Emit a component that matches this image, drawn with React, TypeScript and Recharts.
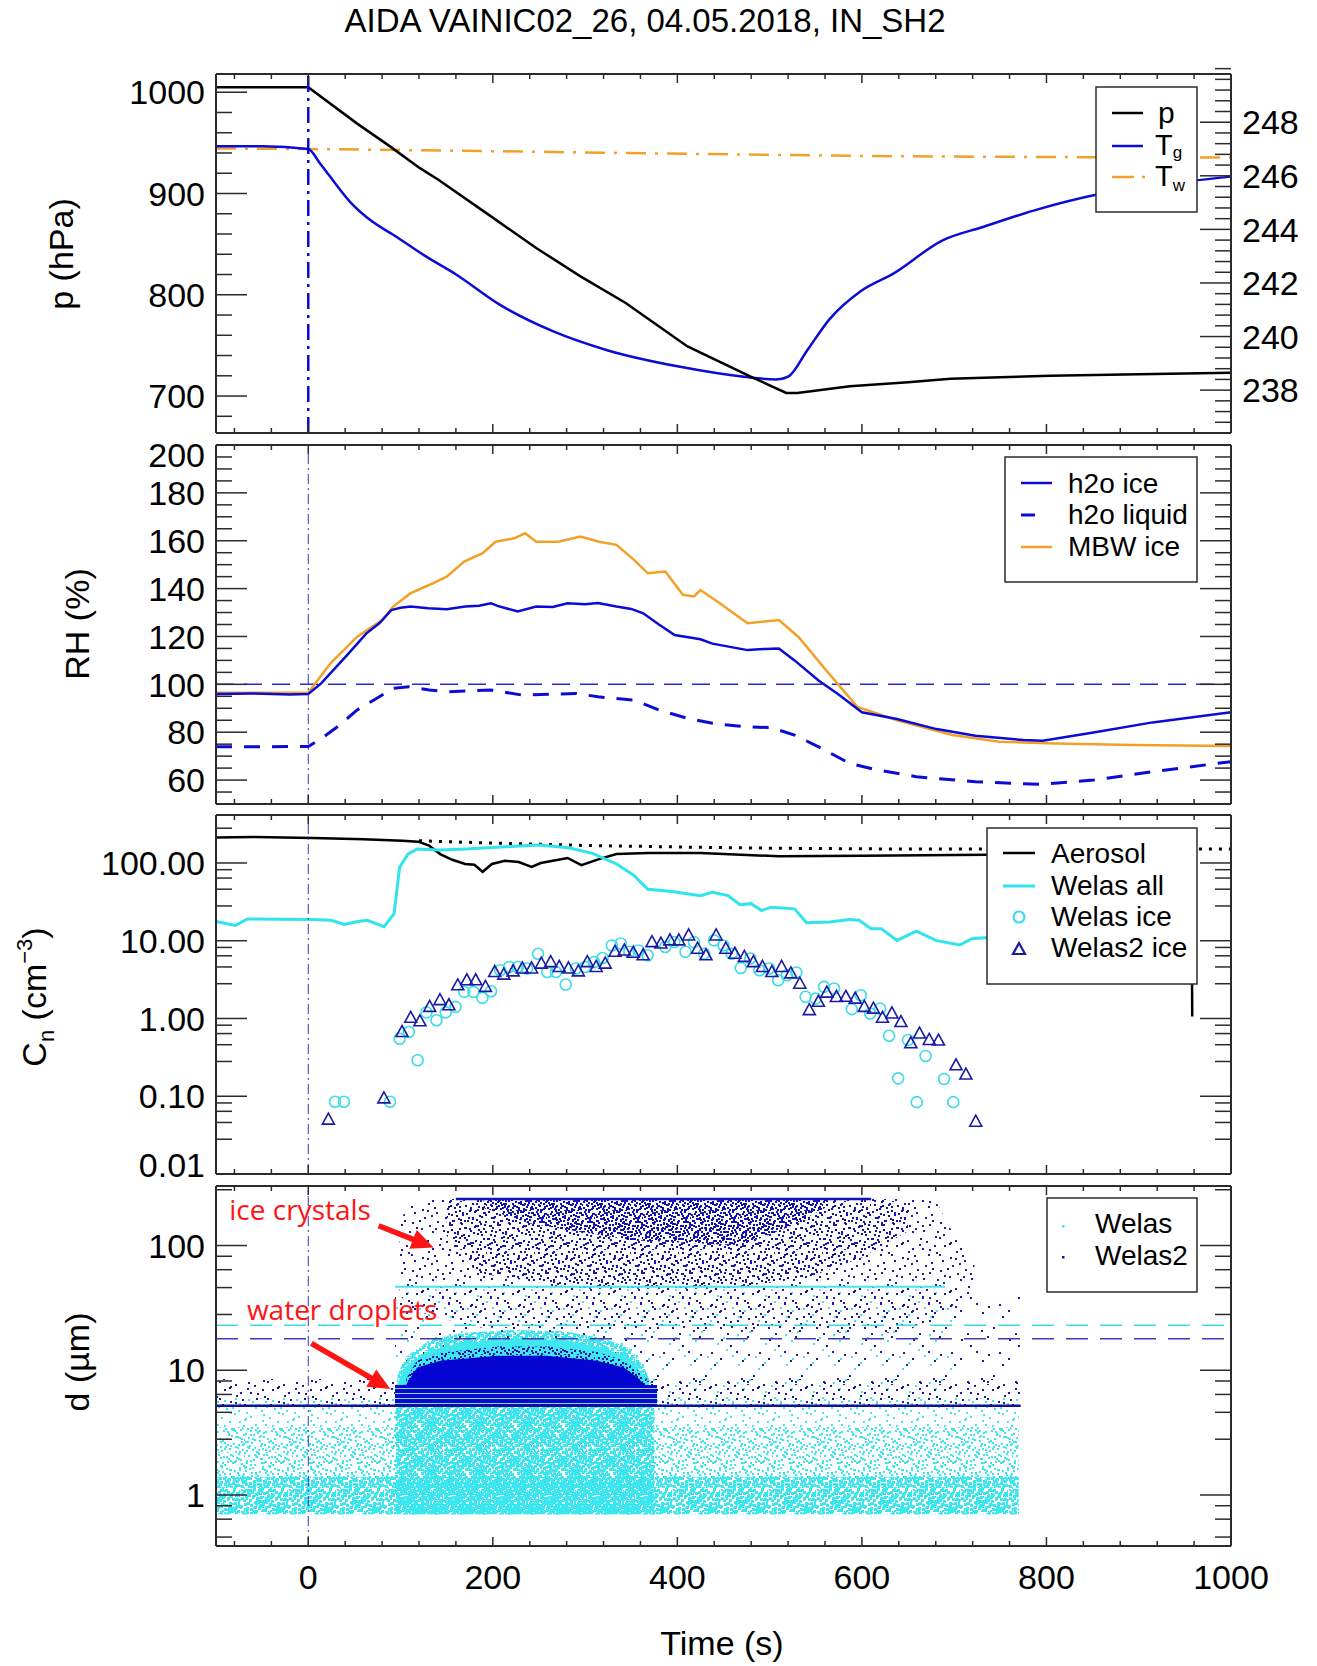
import React from 'react';
import { ComposedChart, Line, Area, Scatter, XAxis, YAxis, ReferenceLine, ReferenceDot } from 'recharts';

// ---------------- Panel 1: pressure (left) and temperatures (right) ----------------
const pTime = [-100, -50, 0, 53, 87, 121, 141, 198, 247, 295, 344, 411, 480, 518, 530, 587, 650, 696, 750, 804, 900, 1000];
const pHpa = [1005, 1005, 1005, 969, 947.5, 925, 913.6, 877.4, 846.2, 818.2, 791.9, 749, 719, 703, 703, 709.6, 713.5, 717, 718.5, 720, 721.5, 723];
const tgTime = [-100, -50, 0, 12, 23, 46, 69, 92, 127, 161, 207, 265, 323, 403, 472, 507, 520, 541, 565, 599, 634, 688, 732, 786, 855, 920, 1000];
const tgK = [247.1, 247.1, 247.0, 246.5, 246.0, 245.0, 244.3, 243.8, 243.0, 242.3, 241.2, 240.2, 239.5, 238.87, 238.5, 238.4, 238.5, 239.5, 240.65, 241.7, 242.35, 243.6, 244.1, 244.7, 245.3, 245.65, 245.97];
const twTime = [-100, 0, 200, 411, 600, 800, 1000];
const twK = [247.02, 247.0, 246.92, 246.82, 246.74, 246.7, 246.68];

// ---------------- Panel 2: relative humidity ----------------
const rhIceT = [-100, -60, -20, 0, 14, 44, 63, 77, 90, 100, 111, 130, 150, 170, 185, 198, 205, 227, 247, 265, 281, 300, 314, 334, 350, 363, 380, 397, 425, 438, 476, 495, 510, 527, 553, 574, 600, 638, 681, 723, 775, 796, 851, 915, 1000];
const rhIceV = [96, 96.2, 95.8, 96, 100.4, 113, 121.3, 125.5, 131, 132, 132.5, 131.8, 131.4, 132.5, 132.8, 133.9, 132.8, 130.4, 132.5, 132.3, 133.9, 133.5, 134, 132.5, 131.5, 129.7, 125, 120.6, 118.8, 117, 114.3, 114.8, 115, 110, 101.6, 96, 88.3, 85.5, 81.3, 78.5, 76.7, 76.4, 79.9, 84.1, 88.3];
const rhMbwT = [-100, 0, 24, 53, 80, 92, 111, 131, 150, 169, 189, 203, 223, 235, 247, 271, 295, 315, 334, 353, 368, 387, 406, 418, 425, 446, 476, 510, 531, 561, 595, 638, 698, 749, 809, 894, 1000];
const rhMbwV = [96.5, 96.5, 108.8, 119.9, 126.9, 132.5, 138.1, 141.5, 145, 151.3, 154.8, 159.6, 161, 163.1, 159.6, 159.6, 161.8, 159.6, 158.3, 152, 146.4, 147.1, 137.4, 136.7, 139.4, 133.9, 125.5, 126.9, 119.9, 106, 90.6, 85, 78.8, 76, 75.3, 74.6, 74.2];
const rhLiqT = [-100, 0, 14.5, 34, 53, 77, 92, 109, 131, 150, 198, 232, 290, 314, 353, 380, 411, 438, 472, 502, 527, 553, 587, 617, 659, 723, 792, 851, 915, 1000];
const rhLiqV = [73.9, 74, 77.4, 83, 89.3, 94.8, 98.3, 99, 97.6, 96.9, 97.6, 95.5, 96.2, 94.8, 93.4, 89.3, 85.8, 83.7, 82.3, 81.9, 78.8, 73.9, 66.9, 64.2, 61.4, 59.3, 58.2, 60, 63.5, 67.7];

// ---------------- Panel 3: number concentrations ----------------
const aeroT = [-100, -60, 5, 60, 102, 119, 131, 143, 156, 170, 180, 189, 199, 213, 228, 242, 252, 265, 281, 296, 315, 334, 368, 425, 510, 600, 736, 850, 957, 958];
const aeroV = [213, 216, 210, 202, 193, 188, 167, 130, 110, 97, 95, 77, 97, 107, 103, 89, 100, 107, 116, 94, 112, 130, 134, 134, 122, 124, 128, 126, 126, 1.06];
const aeroRefT = [120, 200, 300, 425, 500, 600, 700, 1000];
const aeroRefV = [193, 180, 168, 159, 155, 152, 151, 151];
const welasAllT = [-100, -79, -66, 2, 25, 39, 54, 64, 82, 93, 99, 108, 118, 142, 171, 229, 250, 282, 308, 334, 353, 368, 394, 425, 438, 455, 468, 480, 491, 502, 527, 540, 565, 587, 597, 610, 621, 638, 659, 680, 706, 719, 736, 800, 900, 955];
const welasAllV = [17.7, 15.7, 19.1, 18.8, 18.3, 16.2, 17.7, 18.3, 15.2, 22.3, 88, 130, 151, 147, 151, 165, 170, 157, 133, 97, 69, 46, 43, 38, 42, 38, 29, 30, 24.5, 27, 25.7, 17.0, 17.4, 18.8, 18.3, 14.3, 14.3, 10.1, 13.3, 10.1, 8.8, 10.6, 11, 10.5, 10, 10];
const welasIceT = [29, 38.7, 88.6, 99, 109, 118.5, 128, 139, 149, 159.6, 169, 179, 188.7, 198, 208, 217.7, 227, 237, 249, 259, 268.5, 279, 290, 300, 309.7, 319, 329, 338.7, 348, 358, 367.7, 387, 396.7, 408.8, 418, 429, 439.7, 450, 459, 468.7, 479, 488.8, 499.4, 509.2, 518.6, 529, 539, 549.8, 559, 569.8, 589, 598.8, 609, 619.7, 629.5, 639.3, 650, 659.4, 669, 689, 699];
const welasIceV = [0.085, 0.085, 0.085, 0.55, 0.67, 0.29, 1.2, 0.95, 1.2, 1.41, 2.2, 2.2, 1.84, 2.24, 4.17, 4.6, 4.6, 4.4, 6.8, 3.96, 3.96, 2.73, 4.4, 4.6, 5.3, 6.0, 8.7, 9.2, 7.2, 7.5, 6.5, 8.3, 9.6, 7.2, 9.6, 6.8, 10.1, 8.7, 6.8, 4.47, 5.9, 4.17, 4.4, 3.1, 3.6, 3.9, 1.9, 1.8, 2.55, 2.43, 1.32, 1.99, 1.16, 1.34, 0.6, 0.17, 0.53, 0.084, 0.33, 0.167, 0.084];
const welas2IceT = [21.8, 82, 101.6, 111, 121, 131.6, 142.7, 152.4, 162, 171.8, 181.4, 192, 202, 211.9, 222, 232, 242, 252.6, 262.7, 272, 282, 292.7, 302.4, 312, 321.8, 332.4, 342.6, 352.2, 362.9, 372.5, 382.2, 391.9, 401.6, 412.2, 421.9, 431, 442, 452.5, 462.3, 472.6, 482.4, 492.2, 502.4, 513, 523, 532.7, 543, 552.8, 562, 572.4, 582.6, 592.8, 602.6, 612.5, 622.3, 632.5, 642.3, 653, 662.4, 673, 683, 702, 712.7, 723.4];
const welas2IceV = [0.05, 0.094, 0.67, 1.02, 0.92, 1.41, 1.72, 1.48, 2.67, 3.1, 3.1, 2.55, 3.96, 3.66, 4.04, 4.4, 4.4, 5.07, 5.3, 4.6, 4.4, 4.04, 5.3, 4.6, 5.07, 7.2, 7.5, 7.0, 6.5, 9.6, 9.2, 10.1, 10.1, 11.7, 7.9, 6.5, 11.7, 7.9, 6.8, 6.2, 5.3, 4.6, 3.96, 4.6, 3.8, 2.8, 1.28, 1.64, 2.15, 1.89, 1.9, 1.8, 1.41, 1.34, 1.02, 1.16, 0.9, 0.48, 0.64, 0.53, 0.52, 0.25, 0.19, 0.047];

// ---------------- Panel 4: particle size regions (read from the dot clouds) ----------------
const lowBandT = [-100, 770];
const cyanSparseLo = [0.7, 0.7], cyanSparseHi = [6, 6];
const cyanMedLo = [0.7, 0.7], cyanMedHi = [3.5, 3.5];
const cyanDenseLo = [0.7, 0.7], cyanDenseHi = [1.4, 1.4];
const cyanMidT = [94, 700], cyanMidLo = [5.2, 5.2], cyanMidHi = [45, 45];
const navyMidT = [94, 772], navyMidLo = [7.6, 7.6], navyMidHi = [40, 40];
const navyLowT = [-100, 772], navyLowLo = [5.2, 5.2], navyLowHi = [8.5, 8.5];
const dropT = [94, 375], dropLo = [0.7, 0.7], dropHi = [5.2, 5.2];
const cyanEnvT = [94, 97, 107, 132, 168, 223, 277, 320, 349, 364, 371, 376];
const cyanCoreHi = [5.2, 8, 11, 14.5, 16.5, 18, 17.5, 15, 12.5, 9, 7, 5.2];
const cyanFringeHi = [5.2, 9.5, 13, 17.5, 20, 21, 20.5, 18, 15, 10.5, 8, 5.2];
const navyEnvT = [97, 107, 118, 143, 205, 259, 313, 342, 357, 367, 373, 376];
const navyCoreHi = [5.2, 7.9, 10.5, 11.9, 13.1, 13.1, 11.9, 10.5, 8.7, 7.3, 5.5, 5.2];
const navyFringeHi = [5.2, 8.8, 12, 13.8, 15.5, 15.5, 14, 12, 10, 8.2, 6, 5.2];
const stripeT = [94, 378], stripeLo = [5.2, 5.2], stripeHi = [7.6, 7.6];
const iceSparseT = [99, 115, 183, 560, 640, 680, 700, 722];
const iceSparseLo = [40, 30, 22, 20, 20, 25, 30, 45];
const iceSparseHi = [160, 236, 236, 236, 236, 230, 120, 70];
const iceMedT = [150, 183, 300, 450, 540, 600, 650];
const iceMedLo = [120, 60, 45, 45, 55, 80, 130];
const iceMedHi = [236, 236, 236, 236, 236, 236, 236];
const iceDenseT = [190, 240, 350, 470, 520, 560];
const iceDenseLo = [200, 150, 110, 100, 140, 200];
const iceDenseHi = [236, 236, 236, 236, 236, 236];
const cyanBinT = [94, 690], cyanBinV = [46.7, 46.7];
const navyTopT = [160, 610], navyTopV = [236, 236];
const navyBinT = [-100, 772], navyBinV = [5.2, 5.2];
const thresholds = [{ d: 23, color: '#38dbe6' }, { d: 17.9, color: '#3c3cae' }];
const annTexts = [{ label: 'ice crystals', t: -85.6, d: 160 }, { label: 'water droplets', t: -66.5, d: 25.4 }];
const annArrows = [{ t1: 76.2, d1: 143.9, t2: 135.8, d2: 96.4 }, { t1: 3.3, d1: 16.4, t2: 88.9, d2: 7.07 }];

// ---------------- axes / ticks ----------------
const xMajor = [0, 200, 400, 600, 800, 1000];
const xTicks: number[] = [];
for (let v = -80; v <= 1000; v += 40) xTicks.push(v);
const pMajor = [700, 800, 900, 1000];
const pTicks: number[] = [];
for (let v = 680; v <= 1000; v += 20) pTicks.push(v);
const tMajor = [238, 240, 242, 244, 246, 248];
const tTicks: number[] = [];
for (let k = 0; k <= 33; k++) tTicks.push(Math.round((236.8 + 0.4 * k) * 10) / 10);
const rhMajor = [60, 80, 100, 120, 140, 160, 180, 200];
const rhTicks: number[] = [];
for (let v = 55; v <= 200; v += 5) rhTicks.push(v);
const cnMajor = [0.01, 0.1, 1, 10, 100];
const logMinorSteps = [2.8, 4.6, 6.4, 8.2];
const cnTicks: number[] = [...cnMajor];
[0.01, 0.1, 1, 10, 100].forEach((b) => logMinorSteps.forEach((m) => { const v = +(b * m).toPrecision(3); if (v < 414) cnTicks.push(v); }));
const dMajor = [1, 10, 100];
const dTicks: number[] = [...dMajor];
[0.1, 1, 10, 100].forEach((b) => logMinorSteps.forEach((m) => { const v = +(b * m).toPrecision(3); if (v > 0.39 && v < 300) dTicks.push(v); }));

const W = 1317;
const H = 1666;
const FONT = '"Liberation Sans", Arial, Helvetica, sans-serif';
const FRAME = '#2b2b2b';
const BLUE = '#0b0bd6';
const ORANGE = '#f2a126';
const CYAN = '#2fe4ec';
const NAVY = '#1a1aa4';
const panels = [
  { top: 74, bottom: 433 },
  { top: 445, bottom: 804 },
  { top: 815, bottom: 1174 },
  { top: 1186, bottom: 1546 },
];

const zip = (t: number[], v: number[]) => t.map((x, i) => ({ t: x, v: v[i] }));
const zipR = (t: number[], lo: number[], hi: number[]) => t.map((x, i) => ({ t: x, v: [lo[i], hi[i]] }));
const near = (list: number[], v: number) => list.some((m) => Math.abs(m - v) < 1e-6 * Math.max(1, Math.abs(m)));

const makeXTick = (labels: boolean, side: 'bottom' | 'top') => (props: any) => {
  const { x, y, payload } = props;
  const major = near(xMajor, payload.value);
  const len = major ? 9 : 5;
  const dir = side === 'bottom' ? -1 : 1;
  return (
    <g>
      <line x1={x} y1={y} x2={x} y2={y + dir * len} stroke={FRAME} strokeWidth={1.5} />
      {labels && major ? (
        <text x={x} y={y + 31} dy="0.36em" textAnchor="middle" fontSize={34} fontFamily={FONT} fill="#000">
          {payload.value}
        </text>
      ) : null}
    </g>
  );
};

const makeYTick = (majors: number[], side: 'left' | 'right', fmt?: (v: number) => string, shift?: (v: number) => number) => (props: any) => {
  const { x, y, payload } = props;
  const v = payload.value;
  const major = near(majors, v);
  const len = major ? 31 : 16;
  const dir = side === 'left' ? 1 : -1;
  return (
    <g>
      <line x1={x} y1={y} x2={x + dir * len} y2={y} stroke={FRAME} strokeWidth={1.5} />
      {fmt && major ? (
        <text x={x - dir * 11} y={y + (shift ? shift(v) : 0)} dy="0.36em" textAnchor={side === 'left' ? 'end' : 'start'} fontSize={34} fontFamily={FONT} fill="#000">
          {fmt(v)}
        </text>
      ) : null}
    </g>
  );
};

type AxOpts = {
  yDomain: [number, number];
  yScale: 'linear' | 'log';
  yTicks: number[];
  yMajor: number[];
  yFmt: (v: number) => string;
  yShift?: (v: number) => number;
  rDomain?: [number, number];
  rTicks?: number[];
  rMajor?: number[];
  rFmt?: (v: number) => string;
  xLabels: boolean;
};

function axes(o: AxOpts) {
  const line = { stroke: FRAME, strokeWidth: 2 };
  return [
    <XAxis key="xb" xAxisId="b" type="number" dataKey="t" domain={[-100, 1000]} allowDataOverflow ticks={xTicks} interval={0} height={1} tickSize={0} tickMargin={0} tickLine={false} axisLine={line} tick={makeXTick(o.xLabels, 'bottom')} />,
    <XAxis key="xt" xAxisId="top" orientation="top" type="number" dataKey="t" domain={[-100, 1000]} allowDataOverflow ticks={xTicks} interval={0} height={1} tickSize={0} tickMargin={0} tickLine={false} axisLine={line} tick={makeXTick(false, 'top')} />,
    <YAxis key="yl" yAxisId="l" type="number" dataKey="v" scale={o.yScale} domain={o.yDomain} allowDataOverflow ticks={o.yTicks} interval={0} width={216} tickSize={0} tickMargin={0} tickLine={false} axisLine={line} tick={makeYTick(o.yMajor, 'left', o.yFmt, o.yShift)} />,
    <YAxis key="yr" yAxisId="r" orientation="right" type="number" dataKey="v" scale={o.rDomain ? 'linear' : o.yScale} domain={o.rDomain || o.yDomain} allowDataOverflow ticks={o.rTicks || o.yTicks} interval={0} width={86} tickSize={0} tickMargin={0} tickLine={false} axisLine={line} tick={makeYTick(o.rMajor || o.yMajor, 'right', o.rFmt)} />,
  ];
}

const chartProps = (i: number) => ({
  width: W,
  height: H,
  margin: { top: panels[i].top - 1, bottom: H - panels[i].bottom - 1, left: 0, right: 0 },
});

const layer: React.CSSProperties = { position: 'absolute', left: 0, top: 0 };

// decorative dot positions inside a 24px block of a pattern tile (styling only)
const DOTS: [number, number][] = [[3, 2], [15, 5], [9, 11], [21, 17], [6, 19], [18, 1], [12, 22], [1, 9], [23, 12], [8, 6], [17, 13], [4, 15], [20, 8], [11, 3], [14, 18], [2, 23], [22, 21], [7, 14], [16, 9], [10, 20], [5, 7], [19, 16], [13, 0], [0, 17], [23, 4], [9, 1], [3, 11], [15, 22], [20, 12], [7, 3], [12, 7], [18, 19], [1, 5], [22, 15], [6, 23], [14, 13], [10, 16], [17, 4], [4, 20], [21, 0], [11, 10], [2, 14], [16, 21], [8, 18], [19, 6], [13, 15], [5, 2], [22, 9], [0, 12], [15, 1], [9, 23], [18, 11], [6, 10], [12, 4], [20, 22], [3, 18], [14, 7], [23, 20], [7, 21], [17, 16]];
const QUADS = [
  (x: number, y: number) => [x, y],
  (x: number, y: number) => [24 + y, x],
  (x: number, y: number) => [23 - x, 24 + y],
  (x: number, y: number) => [47 - y, 47 - x],
];

function DotPattern({ id, color, n, size, dx = 0, dy = 0 }: { id: string; color: string; n: number; size: number; dx?: number; dy?: number }) {
  const pts: number[][] = [];
  QUADS.forEach((q) => DOTS.slice(0, n).forEach(([x, y]) => pts.push(q(x, y))));
  return (
    <pattern id={id} patternUnits="userSpaceOnUse" width={48} height={48} patternTransform={`translate(${dx},${dy})`}>
      {pts.map(([x, y], i) => (
        <rect key={i} x={x} y={y} width={size} height={size} fill={color} />
      ))}
    </pattern>
  );
}

function Defs() {
  const dc = '#3ce6ee';
  return (
    <svg width={0} height={0} style={{ position: 'absolute', left: 0, top: 0 }}>
      <defs>
        <DotPattern id="cyDense" color={dc} n={40} size={3} />
        <DotPattern id="cyDense2" color={dc} n={52} size={3} dx={11} dy={7} />
        <DotPattern id="cyMed" color={dc} n={26} size={2} dx={5} dy={13} />
        <DotPattern id="cySparse" color={dc} n={12} size={2} dx={17} dy={3} />
        <DotPattern id="cyVSparse" color={dc} n={3} size={2} dx={9} dy={9} />
        <DotPattern id="nvSparse" color="#1d1d9c" n={10} size={2} dx={2} dy={19} />
        <DotPattern id="nvVSparse" color="#1d1d9c" n={3} size={2} dx={13} dy={5} />
        <DotPattern id="nvMed" color="#1414a8" n={22} size={2} dx={7} dy={2} />
        <DotPattern id="nvDense" color="#1010b4" n={44} size={2} dx={19} dy={11} />
        <pattern id="stripes" patternUnits="userSpaceOnUse" width={12} height={5}>
          <rect x={0} y={0} width={12} height={5} fill="#0a0ac8" />
          <rect x={0} y={3} width={12} height={1} fill="#7fd8f4" />
        </pattern>
      </defs>
    </svg>
  );
}

const ArrowShape = (p: any) => {
  const { x1, y1, x2, y2 } = p;
  const dx = x2 - x1;
  const dy = y2 - y1;
  const L = Math.hypot(dx, dy) || 1;
  const ux = dx / L;
  const uy = dy / L;
  const hl = 22;
  const hw = 10;
  const bx = x2 - ux * hl;
  const by = y2 - uy * hl;
  return (
    <g>
      <line x1={x1} y1={y1} x2={bx + ux * 2} y2={by + uy * 2} stroke="#ff1414" strokeWidth={5.5} />
      <polygon points={`${x2},${y2} ${bx - uy * hw},${by + ux * hw} ${bx + uy * hw},${by - ux * hw}`} fill="#ff1414" />
    </g>
  );
};

const ids = { xAxisId: 'b', yAxisId: 'l' };
const rangeArea = (key: string, data: any[], fill: string) => (
  <Area key={key} {...ids} data={data} dataKey="v" type="linear" stroke="none" fill={fill} fillOpacity={1} dot={false} activeDot={false} isAnimationActive={false} />
);

function Panel1() {
  return (
    <div style={layer}>
      <ComposedChart {...chartProps(0)}>
        {axes({ yDomain: [663.5, 1018], yScale: 'linear', yTicks: pTicks, yMajor: pMajor, yFmt: (v) => String(v), rDomain: [236.4, 249.8], rTicks: tTicks, rMajor: tMajor, rFmt: (v) => String(v), xLabels: false })}
        <Line {...ids} yAxisId="r" data={zip(twTime, twK)} dataKey="v" type="linear" stroke={ORANGE} strokeWidth={2.5} strokeDasharray="20 9 3 9" dot={false} activeDot={false} isAnimationActive={false} />
        <Line {...ids} yAxisId="r" data={zip(tgTime, tgK)} dataKey="v" type="monotone" stroke={BLUE} strokeWidth={2.5} dot={false} activeDot={false} isAnimationActive={false} />
        <Line {...ids} data={zip(pTime, pHpa)} dataKey="v" type="linear" stroke="#000" strokeWidth={2.5} dot={false} activeDot={false} isAnimationActive={false} />
        <ReferenceLine {...ids} x={0} stroke={BLUE} strokeWidth={2.5} strokeDasharray="16 6 3 6" />
      </ComposedChart>
    </div>
  );
}

function Panel2() {
  return (
    <div style={layer}>
      <ComposedChart {...chartProps(1)}>
        {axes({ yDomain: [50, 200], yScale: 'linear', yTicks: rhTicks, yMajor: rhMajor, yFmt: (v) => String(v), yShift: (v) => (v === 200 ? 10 : 0), xLabels: false })}
        <ReferenceLine {...ids} y={100} stroke="#2a2ad0" strokeWidth={1.5} strokeDasharray="18 10" />
        <Line {...ids} data={zip(rhLiqT, rhLiqV)} dataKey="v" type="linear" stroke={BLUE} strokeWidth={3} strokeDasharray="16 12" dot={false} activeDot={false} isAnimationActive={false} />
        <Line {...ids} data={zip(rhMbwT, rhMbwV)} dataKey="v" type="linear" stroke={ORANGE} strokeWidth={2.5} dot={false} activeDot={false} isAnimationActive={false} />
        <Line {...ids} data={zip(rhIceT, rhIceV)} dataKey="v" type="linear" stroke={BLUE} strokeWidth={2.5} dot={false} activeDot={false} isAnimationActive={false} />
        <ReferenceLine {...ids} x={0} stroke="#3535c0" strokeWidth={1} strokeDasharray="10 4 2 4" />
      </ComposedChart>
    </div>
  );
}

const CircleShape = (p: any) => <circle cx={p.cx} cy={p.cy} r={5.5} fill="none" stroke="#3cdde6" strokeWidth={1.6} />;
const TriShape = (p: any) => (
  <polygon points={`${p.cx},${p.cy - 6.5} ${p.cx - 6},${p.cy + 4.5} ${p.cx + 6},${p.cy + 4.5}`} fill="none" stroke={NAVY} strokeWidth={1.6} />
);

function Panel3() {
  const fmt = (v: number) => v.toFixed(2);
  return (
    <div style={layer}>
      <ComposedChart {...chartProps(2)}>
        {axes({ yDomain: [0.01, 414], yScale: 'log', yTicks: cnTicks, yMajor: cnMajor, yFmt: fmt, yShift: (v) => (v < 0.011 ? -9 : 0), xLabels: false })}
        <Line {...ids} data={zip(aeroRefT, aeroRefV)} dataKey="v" type="linear" stroke="#000" strokeWidth={3} strokeDasharray="3 7" dot={false} activeDot={false} isAnimationActive={false} />
        <Line {...ids} data={zip(aeroT, aeroV)} dataKey="v" type="linear" stroke="#000" strokeWidth={2.5} dot={false} activeDot={false} isAnimationActive={false} />
        <Line {...ids} data={zip(welasAllT, welasAllV)} dataKey="v" type="linear" stroke={CYAN} strokeWidth={3} dot={false} activeDot={false} isAnimationActive={false} />
        <Scatter {...ids} data={zip(welasIceT, welasIceV)} dataKey="v" shape={CircleShape} isAnimationActive={false} />
        <Scatter {...ids} data={zip(welas2IceT, welas2IceV)} dataKey="v" shape={TriShape} isAnimationActive={false} />
        <ReferenceLine {...ids} x={0} stroke="#3535c0" strokeWidth={1} strokeDasharray="10 4 2 4" />
      </ComposedChart>
    </div>
  );
}

function Panel4() {
  return (
    <div style={layer}>
      <ComposedChart {...chartProps(3)}>
        {axes({ yDomain: [0.39, 300], yScale: 'log', yTicks: dTicks, yMajor: dMajor, yFmt: (v) => String(v), xLabels: true })}
        {rangeArea('cs', zipR(lowBandT, cyanSparseLo, cyanSparseHi), 'url(#cySparse)')}
        {rangeArea('cm', zipR(lowBandT, cyanMedLo, cyanMedHi), 'url(#cyMed)')}
        {rangeArea('cd', zipR(lowBandT, cyanDenseLo, cyanDenseHi), 'url(#cyDense)')}
        {rangeArea('cmid', zipR(cyanMidT, cyanMidLo, cyanMidHi), 'url(#cyVSparse)')}
        {rangeArea('nmid', zipR(navyMidT, navyMidLo, navyMidHi), 'url(#nvVSparse)')}
        {rangeArea('nlow', zipR(navyLowT, navyLowLo, navyLowHi), 'url(#nvSparse)')}
        {rangeArea('drop', zipR(dropT, dropLo, dropHi), 'url(#cyDense2)')}
        {rangeArea('drop2', zipR(dropT, dropLo, dropHi), 'url(#cyMed)')}
        {rangeArea('cfr', zipR(cyanEnvT, cyanEnvT.map(() => 5.2), cyanFringeHi), 'url(#cyDense2)')}
        {rangeArea('ccore', zipR(cyanEnvT, cyanEnvT.map(() => 5.2), cyanCoreHi), '#3fe8ee')}
        {rangeArea('nfr', zipR(navyEnvT, navyEnvT.map(() => 5.2), navyFringeHi), 'url(#nvDense)')}
        {rangeArea('ncore', zipR(navyEnvT, navyEnvT.map(() => 5.2), navyCoreHi), '#0505d2')}
        {rangeArea('str', zipR(stripeT, stripeLo, stripeHi), 'url(#stripes)')}
        {rangeArea('is', zipR(iceSparseT, iceSparseLo, iceSparseHi), 'url(#nvSparse)')}
        {rangeArea('im', zipR(iceMedT, iceMedLo, iceMedHi), 'url(#nvMed)')}
        {rangeArea('id', zipR(iceDenseT, iceDenseLo, iceDenseHi), 'url(#nvDense)')}
        <Line {...ids} data={zip(cyanBinT, cyanBinV)} dataKey="v" type="linear" stroke="#45e6ee" strokeWidth={2} dot={false} activeDot={false} isAnimationActive={false} />
        <Line {...ids} data={zip(navyTopT, navyTopV)} dataKey="v" type="linear" stroke="#1212b8" strokeWidth={2.5} dot={false} activeDot={false} isAnimationActive={false} />
        <Line {...ids} data={zip(navyBinT, navyBinV)} dataKey="v" type="linear" stroke="#10109a" strokeWidth={2.5} dot={false} activeDot={false} isAnimationActive={false} />
        {thresholds.map((th) => (
          <ReferenceLine key={th.d} {...ids} y={th.d} stroke={th.color} strokeWidth={1.5} strokeDasharray="22 12" />
        ))}
        <ReferenceLine {...ids} x={0} stroke="#3535c0" strokeWidth={1} strokeDasharray="10 4 2 4" />
        {annArrows.map((a, i) => (
          <ReferenceLine key={'arr' + i} {...ids} segment={[{ x: a.t1, y: a.d1 }, { x: a.t2, y: a.d2 }]} shape={ArrowShape} />
        ))}
        {annTexts.map((a, i) => (
          <ReferenceDot
            key={'txt' + i}
            {...ids}
            x={a.t}
            y={a.d}
            r={0}
            shape={(p: any) => (
              <text x={p.cx} y={p.cy} fill="#ff1414" fontSize={28} fontFamily='"Open Sans", "Noto Sans", sans-serif'>
                {a.label}
              </text>
            )}
          />
        ))}
      </ComposedChart>
    </div>
  );
}

function Overlay() {
  const t = { fontFamily: FONT, fill: '#000' };
  const box = { fill: '#fff', stroke: FRAME, strokeWidth: 1.5 };
  return (
    <svg width={W} height={H} style={{ position: 'absolute', left: 0, top: 0, pointerEvents: 'none' }}>
      <text x={645} y={32} textAnchor="middle" fontSize={33} {...t}>AIDA VAINIC02_26, 04.05.2018, IN_SH2</text>
      <text transform="translate(73,254) rotate(-90)" textAnchor="middle" fontSize={34} {...t}>p (hPa)</text>
      <text transform="translate(89,624) rotate(-90)" textAnchor="middle" fontSize={34} {...t}>RH (%)</text>
      <text transform="translate(46,997) rotate(-90)" textAnchor="middle" fontSize={34} {...t}>
        C<tspan fontSize={22} dy={8}>n</tspan>
        <tspan dy={-8}> (cm</tspan>
        <tspan fontSize={22} dy={-14}>−3</tspan>
        <tspan dy={14}>)</tspan>
      </text>
      <text transform="translate(89,1362) rotate(-90)" textAnchor="middle" fontSize={34} {...t}>d (µm)</text>
      <text x={722} y={1655} textAnchor="middle" fontSize={34} {...t}>Time (s)</text>

      {/* legend panel 1 */}
      <rect x={1096} y={87} width={101} height={125} {...box} />
      <line x1={1112} y1={113} x2={1143} y2={113} stroke="#000" strokeWidth={2.5} />
      <text x={1158} y={123} fontSize={30} {...t}>p</text>
      <line x1={1112} y1={146} x2={1143} y2={146} stroke={BLUE} strokeWidth={2.5} />
      <text x={1155} y={155} fontSize={29} {...t}>T<tspan fontSize={17} dy={3}>g</tspan></text>
      <line x1={1112} y1={177} x2={1145} y2={177} stroke={ORANGE} strokeWidth={2.5} strokeDasharray="22 8 3 8" />
      <text x={1155} y={186} fontSize={29} {...t}>T<tspan fontSize={17} dy={5}>w</tspan></text>

      {/* legend panel 2 */}
      <rect x={1005} y={457} width={192} height={125} {...box} />
      <line x1={1021} y1={483} x2={1052} y2={483} stroke={BLUE} strokeWidth={2.5} />
      <text x={1068} y={493} fontSize={28} {...t}>h2o ice</text>
      <line x1={1021} y1={515} x2={1052} y2={515} stroke={BLUE} strokeWidth={3} strokeDasharray="14 20" />
      <text x={1068} y={524} fontSize={28} {...t}>h2o liquid</text>
      <line x1={1021} y1={547} x2={1052} y2={547} stroke={ORANGE} strokeWidth={2.5} />
      <text x={1068} y={556} fontSize={28} {...t}>MBW ice</text>

      {/* legend panel 3 */}
      <rect x={987} y={828} width={210} height={156} {...box} />
      <line x1={1003} y1={853} x2={1035} y2={853} stroke="#000" strokeWidth={2.5} />
      <text x={1051} y={863} fontSize={28} {...t}>Aerosol</text>
      <line x1={1003} y1={886} x2={1035} y2={886} stroke={CYAN} strokeWidth={3} />
      <text x={1051} y={895} fontSize={28} {...t}>Welas all</text>
      <circle cx={1019} cy={917} r={5.5} fill="none" stroke="#3cdde6" strokeWidth={2.2} />
      <text x={1051} y={926} fontSize={28} {...t}>Welas ice</text>
      <polygon points="1019,943 1013,954 1025,954" fill="none" stroke={NAVY} strokeWidth={2.2} />
      <text x={1051} y={957} fontSize={28} {...t}>Welas2 ice</text>

      {/* legend panel 4 */}
      <rect x={1047} y={1198} width={150} height={94} {...box} />
      <rect x={1062} y={1225} width={2.5} height={2.5} fill="#3ce6ee" />
      <text x={1095} y={1233} fontSize={28} {...t}>Welas</text>
      <rect x={1062} y={1256} width={2.5} height={2.5} fill="#1414a8" />
      <text x={1095} y={1265} fontSize={28} {...t}>Welas2</text>
    </svg>
  );
}

export default function App() {
  return (
    <div style={{ position: 'relative', width: W, height: H, background: '#fff', overflow: 'hidden' }}>
      <style>{'body{margin:0;background:#fff}'}</style>
      <Defs />
      <Panel4 />
      <Panel3 />
      <Panel2 />
      <Panel1 />
      <Overlay />
    </div>
  );
}
